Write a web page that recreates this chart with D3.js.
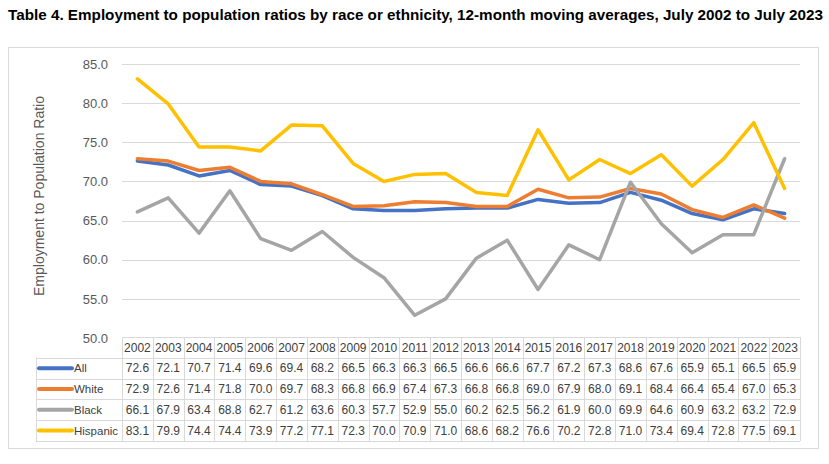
<!DOCTYPE html>
<html><head><meta charset="utf-8">
<script src="https://cdn.jsdelivr.net/npm/d3@7"></script>
<style>body{margin:0;background:#fff}svg{display:block}</style>
</head><body>
<svg id="c" width="829" height="464"></svg>
<script>
const years = ["2002","2003","2004","2005","2006","2007","2008","2009","2010","2011","2012","2013","2014","2015","2016","2017","2018","2019","2020","2021","2022","2023"];
const allVals = [72.6,72.1,70.7,71.4,69.6,69.4,68.2,66.5,66.3,66.3,66.5,66.6,66.6,67.7,67.2,67.3,68.6,67.6,65.9,65.1,66.5,65.9];
const whiteVals = [72.9,72.6,71.4,71.8,70.0,69.7,68.3,66.8,66.9,67.4,67.3,66.8,66.8,69.0,67.9,68.0,69.1,68.4,66.4,65.4,67.0,65.3];
const blackVals = [66.1,67.9,63.4,68.8,62.7,61.2,63.6,60.3,57.7,52.9,55.0,60.2,62.5,56.2,61.9,60.0,69.9,64.6,60.9,63.2,63.2,72.9];
const hispanicVals = [83.1,79.9,74.4,74.4,73.9,77.2,77.1,72.3,70.0,70.9,71.0,68.6,68.2,76.6,70.2,72.8,71.0,73.4,69.4,72.8,77.5,69.1];
const seriesNames = ["All","White","Black","Hispanic"];
const seriesColors = ["#4472C4","#ED7D31","#A5A5A5","#FFC000"];
const yTicks = [50,55,60,65,70,75,80,85];

(function(){
const series = seriesNames.map((n,i)=>({name:n,color:seriesColors[i],values:[allVals,whiteVals,blackVals,hispanicVals][i]}));
const svg = d3.select("#c");
const font = "'Liberation Sans', Arial, sans-serif";

svg.append("text").attr("x",8).attr("y",20).attr("font-family",font).attr("font-weight","bold")
  .attr("font-size",15).attr("fill","#000").attr("textLength",815).attr("lengthAdjust","spacingAndGlyphs")
  .text("Table 4. Employment to population ratios by race or ethnicity, 12-month moving averages, July 2002 to July 2023");

svg.append("rect").attr("x",8.5).attr("y",47.5).attr("width",810).attr("height",401)
  .attr("fill","none").attr("stroke","#d9d9d9");

const pLeft=122,pRight=800,pTop=64,pBottom=338;
const x = d3.scaleBand().domain(years).range([pLeft,pRight]);
const y = d3.scaleLinear().domain([50,85]).range([pBottom,pTop]);

svg.append("g").selectAll("line").data(yTicks.filter(t=>t>50)).join("line")
  .attr("x1",pLeft).attr("x2",pRight).attr("y1",d=>Math.round(y(d))+0.5).attr("y2",d=>Math.round(y(d))+0.5)
  .attr("stroke","#d9d9d9").attr("stroke-width",1);

const ya = d3.axisLeft(y).tickValues(yTicks).tickFormat(d3.format(".1f")).tickSize(0).tickPadding(0);
const yg = svg.append("g").attr("transform",`translate(108,0)`).call(ya);
yg.select(".domain").remove();
yg.selectAll("text").attr("font-family",font).attr("font-size",13).attr("fill","#595959");

svg.append("text").attr("transform","translate(44,196) rotate(-90)").attr("text-anchor","middle")
  .attr("font-family",font).attr("font-size",14).attr("fill","#595959").text("Employment to Population Ratio");

const line = d3.line().x((d,i)=>x(years[i])+x.bandwidth()/2).y(d=>y(d));
svg.append("g").selectAll("path").data(series).join("path")
  .attr("d",d=>line(d.values)).attr("fill","none").attr("stroke",d=>d.color)
  .attr("stroke-width",3.5).attr("stroke-linejoin","round").attr("stroke-linecap","round");

const rowH = 20.8;
const tTop = pBottom - 1;
const legLeft = 36;
const grid = svg.append("g").attr("stroke","#d9d9d9").attr("stroke-width",1);
grid.append("line").attr("x1",pLeft).attr("x2",pRight).attr("y1",tTop+0.5).attr("y2",tTop+0.5);
for(let r=1;r<=5;r++){
  const yy = Math.round(tTop+r*rowH)+0.5;
  grid.append("line").attr("x1",legLeft).attr("x2",pRight).attr("y1",yy).attr("y2",yy);
}
years.forEach((yr)=>{
  const xx = Math.round(x(yr))+0.5;
  grid.append("line").attr("x1",xx).attr("x2",xx).attr("y1",tTop).attr("y2",tTop+5*rowH);
});
grid.append("line").attr("x1",pRight+0.5).attr("x2",pRight+0.5).attr("y1",tTop).attr("y2",tTop+5*rowH);
grid.append("line").attr("x1",legLeft+0.5).attr("x2",legLeft+0.5).attr("y1",tTop+rowH).attr("y2",tTop+5*rowH);

const tfont = 12;
svg.append("g").selectAll("text").data(years).join("text")
  .attr("x",d=>x(d)+x.bandwidth()/2).attr("y",tTop+rowH/2+4.2).attr("text-anchor","middle")
  .attr("font-family",font).attr("font-size",tfont).attr("fill","#404040").text(d=>d);

series.forEach((s,si)=>{
  const ry = tTop+(si+1)*rowH;
  svg.append("line").attr("x1",39).attr("x2",72).attr("y1",ry+rowH/2).attr("y2",ry+rowH/2)
    .attr("stroke",s.color).attr("stroke-width",4).attr("stroke-linecap","round");
  svg.append("text").attr("x",74).attr("y",ry+rowH/2+4.2).attr("font-family",font).attr("font-size",11.5)
    .attr("fill","#404040").text(s.name);
  svg.append("g").selectAll("text").data(s.values).join("text")
    .attr("x",(d,i)=>x(years[i])+x.bandwidth()/2).attr("y",ry+rowH/2+4.2).attr("text-anchor","middle")
    .attr("font-family",font).attr("font-size",tfont).attr("fill","#404040").text(d=>d.toFixed(1));
});
})();
</script>
</body></html>
